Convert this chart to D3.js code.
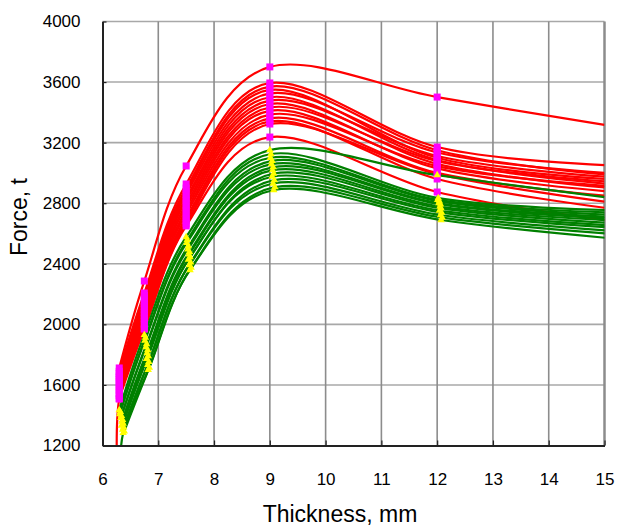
<!DOCTYPE html>
<html>
<head>
<meta charset="utf-8">
<script src="https://cdn.jsdelivr.net/npm/d3@7"></script>
<style>
  body { margin:0; background:#fff; }
  svg text { font-family:"Liberation Sans", Arial, sans-serif; fill:#000; }
</style>
</head>
<body>
<svg id="chart" width="617" height="526"></svg>
<script>
// thickness points (mm), the last one carries the line only, no marker
var thickness = [6.3, 6.75, 7.5, 9, 12, 15];
var hasMarker = [true, true, true, true, true, false];

// upper group (red lines, magenta squares), force in t
var redSeries = [
  [1712, 2286, 3046, 3700, 3501, 3317],
  [1690, 2207, 2927, 3594, 3171, 3052],
  [1675, 2190, 2900, 3570, 3150, 2990],
  [1660, 2170, 2880, 3548, 3100, 2960],
  [1648, 2150, 2860, 3525, 3135, 3000],
  [1635, 2135, 2835, 3500, 3085, 2930],
  [1620, 2118, 2818, 3478, 3112, 2975],
  [1605, 2100, 2795, 3455, 3060, 2905],
  [1590, 2080, 2775, 3432, 3078, 2945],
  [1575, 2060, 2752, 3410, 3030, 2880],
  [1560, 2040, 2730, 3385, 3045, 2915],
  [1545, 2020, 2705, 3360, 3000, 2850],
  [1530, 2000, 2685, 3340, 2960, 2770],
  [1510, 1972, 2664, 3323, 2993, 2810],
  [1507, 1969, 2650, 3237, 2874, 2689]
];

// lower group (green lines, yellow triangles)
var greenSeries = [
  [1434, 1930, 2577, 3151, 2986, 2840],
  [1422, 1912, 2558, 3125, 2834, 2755],
  [1408, 1892, 2538, 3100, 2822, 2740],
  [1396, 1870, 2516, 3080, 2812, 2725],
  [1383, 1850, 2496, 3058, 2800, 2712],
  [1370, 1830, 2478, 3038, 2792, 2700],
  [1358, 1810, 2462, 3018, 2778, 2688],
  [1345, 1790, 2444, 2996, 2766, 2670],
  [1332, 1772, 2428, 2975, 2752, 2655],
  [1320, 1752, 2410, 2952, 2738, 2640],
  [1305, 1732, 2392, 2930, 2722, 2620],
  [1294, 1714, 2374, 2906, 2705, 2598],
  [1283, 1699, 2359, 2887, 2689, 2570]
];
// measured thickness of the green group is a bit off the nominal one
var greenShift = [0, 0.02, 0.01, 0.04, 0.03, 0.06, 0.05, 0.07, 0.04, 0.08, 0.06, 0.09, 0.07];

// the lowest line of each group starts below the chart floor
var redLead = {series: 14, x: 6.27, value: 950};
var greenLead = {series: 12, x: 6.33, value: 950};

var xTicks = [6, 7, 8, 9, 10, 11, 12, 13, 14, 15];
var yTicks = [1200, 1600, 2000, 2400, 2800, 3200, 3600, 4000];

var box = {left: 102.5, right: 604.5, top: 21.5, bottom: 445.5};

var svg = d3.select("#chart");

var x = d3.scaleLinear().domain([6, 15]).range([box.left, box.right]);
var y = d3.scaleLinear().domain([1200, 4000]).range([box.bottom, box.top]);

svg.append("defs")
   .append("clipPath")
   .attr("id", "plot-clp")
   .append("rect")
   .attr("x", box.left)
   .attr("y", box.top)
   .attr("width", box.right - box.left)
   .attr("height", box.bottom - box.top);

// grid
svg.append("g")
   .selectAll("line")
   .data(yTicks.slice(1))
   .join("line")
   .attr("x1", box.left).attr("x2", box.right)
   .attr("y1", function(d) { return y(d) })
   .attr("y2", function(d) { return y(d) })
   .attr("stroke", "#a8a8a8")
   .attr("stroke-width", 1.6);

svg.append("g")
   .selectAll("line")
   .data(xTicks.slice(1))
   .join("line")
   .attr("x1", function(d) { return x(d) })
   .attr("x2", function(d) { return x(d) })
   .attr("y1", box.top).attr("y2", box.bottom)
   .attr("stroke", "#8c8c8c")
   .attr("stroke-width", function(d) { return d == 15 ? 2.5 : 1.6 });

function toPoints(vals, shift, lead, i) {
  var pts = thickness.map(function(t, j) {
    return {x: t + shift, y: vals[j], m: hasMarker[j]};
  });
  if (lead.series == i) pts.unshift({x: lead.x, y: lead.value, m: false});
  return pts;
}

var redPts = redSeries.map(function(v, i) { return toPoints(v, 0, redLead, i) });
var greenPts = greenSeries.map(function(v, i) { return toPoints(v, greenShift[i], greenLead, i) });

var line = d3.line()
   .x(function(d) { return x(d.x) })
   .y(function(d) { return y(d.y) })
   .curve(d3.curveCatmullRom.alpha(0));

var plot = svg.append("g").attr("clip-path", "url(#plot-clp)");

plot.append("g")
   .selectAll("path")
   .data(redPts)
   .join("path")
   .attr("d", line)
   .attr("fill", "none")
   .attr("stroke", "#ff0000")
   .attr("stroke-width", 2.2);

plot.append("g")
   .selectAll("path")
   .data(greenPts)
   .join("path")
   .attr("d", line)
   .attr("fill", "none")
   .attr("stroke", "#008000")
   .attr("stroke-width", 2.2);

var onlyMarked = function(s) { return s.filter(function(d) { return d.m }) };

plot.append("g")
   .selectAll("g")
   .data(redPts)
   .join("g")
   .selectAll("rect")
   .data(onlyMarked)
   .join("rect")
   .attr("x", function(d) { return x(d.x) - 3.5 })
   .attr("y", function(d) { return y(d.y) - 3.5 })
   .attr("width", 7)
   .attr("height", 7)
   .attr("fill", "#ff00ff");

var tri = d3.symbol().type(d3.symbolTriangle).size(24);
plot.append("g")
   .selectAll("g")
   .data(greenPts)
   .join("g")
   .selectAll("path")
   .data(onlyMarked)
   .join("path")
   .attr("d", tri)
   .attr("transform", function(d) { return "translate(" + x(d.x) + "," + y(d.y) + ")" })
   .attr("fill", "#ffff00");

// axes, ticks point inside the plot
var yAxis = svg.append("g")
   .attr("transform", "translate(" + box.left + ",0)")
   .call(d3.axisLeft(y).tickValues(yTicks).tickFormat(d3.format("d"))
        .tickSize(-4).tickSizeOuter(0).tickPadding(22));

var xAxis = svg.append("g")
   .attr("transform", "translate(0," + box.bottom + ")")
   .call(d3.axisBottom(x).tickValues(xTicks).tickFormat(d3.format("d"))
        .tickSize(-5).tickSizeOuter(0).tickPadding(27));

[yAxis, xAxis].forEach(function(a) {
  a.select(".domain").attr("stroke", "#222").attr("stroke-width", 2);
  a.selectAll(".tick line").attr("stroke", "#222").attr("stroke-width", 1.2);
  a.selectAll(".tick text")
   .style("font-family", '"Liberation Sans", Arial, sans-serif')
   .style("font-size", "17px")
   .attr("fill", "#000");
});

svg.append("text")
   .attr("x", 340)
   .attr("y", 522)
   .attr("text-anchor", "middle")
   .style("font-size", "23px")
   .text("Thickness, mm");

svg.append("text")
   .attr("transform", "translate(27,217) rotate(-90)")
   .attr("text-anchor", "middle")
   .style("font-size", "23px")
   .text("Force, t");
</script>
</body>
</html>
